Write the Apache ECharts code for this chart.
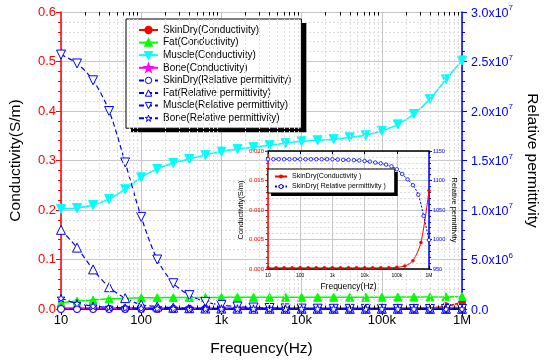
<!DOCTYPE html>
<html><head><meta charset="utf-8">
<script src="https://cdn.jsdelivr.net/npm/echarts@6/dist/echarts.min.js"></script>
<style>html,body{margin:0;padding:0;background:#fff}#c{width:550px;height:363px}</style>
</head><body><div id="c"></div>
<script>
// ---- data (main chart, 5 points per decade) ----
const freq = [10, 15.85, 25.12, 39.81, 63.1, 100, 158.5, 251.2, 398.1, 631, 1000, 1585, 2512, 3981, 6310,
  10000, 15849, 25119, 39811, 63096, 100000, 158489, 251189, 398107, 630957, 1000000];
const skinCond = [0.0002,0.0002,0.0002,0.0002,0.0002,0.0002,0.0002,0.0002,0.0002,0.0002,0.0002,0.0002,0.0002,
  0.0002,0.0002,0.0002,0.0002,0.0002,0.0002,0.0002,0.0003,0.0005,0.0010,0.0023,0.0058,0.0133];
const fatCond = [0.0125,0.016,0.018,0.0205,0.0218,0.0225,0.0229,0.0231,0.0233,0.0234,0.0235,0.0236,0.0236,
  0.0236,0.0237,0.0237,0.0237,0.0238,0.0238,0.0238,0.0239,0.024,0.0241,0.0243,0.0246,0.0251];
const muscleCond = [0.202,0.204,0.21,0.222,0.242,0.266,0.283,0.295,0.303,0.311,0.318,0.323,0.327,0.331,0.335,
  0.339,0.341,0.343,0.347,0.351,0.36,0.373,0.394,0.424,0.464,0.502];
const boneCond = [0.002,0.002,0.002,0.002,0.002,0.002,0.002,0.002,0.002,0.002,0.002,0.002,0.002,0.002,0.002,
  0.002,0.002,0.002,0.002,0.002,0.0021,0.0022,0.0023,0.0025,0.0027,0.003];
const skinPerm = [1136,1136,1136,1136,1136,1136,1136,1136,1136,1136,1136,1135.5,1135,1134.5,1134,1133,1131,
  1129.5,1127,1124,1119,1109,1096,1078,1045,999];
const fatPerm = [8.0e6,6.2e6,4.0e6,2.2e6,1.1e6,4.5e5,2.5e5,1.3e5,8e4,5e4,4e4,3.5e4,3e4,2.8e4,2.6e4,2.5e4,
  2.4e4,2.3e4,2.2e4,2.1e4,2e4,1.9e4,1.8e4,1.7e4,1.6e4,1.5e4];
const musclePerm = [2.57e7,2.48e7,2.31e7,2.0e7,1.48e7,9.3e6,5.0e6,2.6e6,1.4e6,7.2e5,4.0e5,2.5e5,1.5e5,1.0e5,
  6e4,4e4,3e4,2e4,1.5e4,1.2e4,1e4,8e3,6e3,4e3,3e3,2e3];
const bonePerm = [1.1e6,5.5e5,3.0e5,1.8e5,1.2e5,8.5e4,6.5e4,5e4,4.2e4,3.6e4,3.1e4,2.7e4,2.4e4,2.1e4,1.9e4,
  1.7e4,1.5e4,1.3e4,1.1e4,1e4,9e3,8e3,7e3,6.5e3,6e3,5.5e3];

// ---- data (inset) ----
const insetFreqCond = [10,17.78,31.62,56.23,100,177.8,316.2,562.3,1000,1778,3162,5623,10000,17783,31623,
  56234,100000,177828,316228,562341,1000000];
const insetCond = [0.0002,0.0002,0.0002,0.0002,0.0002,0.0002,0.0002,0.0002,0.0002,0.0002,0.0002,0.0002,
  0.0002,0.0002,0.0002,0.0002,0.0003,0.0005,0.0014,0.0045,0.0133];
const insetFreqPerm = [10,14.68,21.54,31.62,46.42,68.13,100,146.8,215.4,316.2,464.2,681.3,1000,1468,2154,
  3162,4642,6813,10000,14678,21544,31623,46416,68129,100000,146780,215443,316228,464159,681292,1000000];
const insetPerm = [1136,1136,1136,1136,1136,1136,1136,1136,1136,1136,1136,1136,1136,1135.5,1135,1135,
  1134.5,1134,1133,1132,1130.5,1129,1127,1124,1119,1111,1102,1092,1076,1040,999];

// axis tick labels
const freqLabels = {10:'10',100:'100',1000:'1k',10000:'10k',100000:'100k',1000000:'1M'};

const FONT = 'Arial, "Liberation Sans", sans-serif';
const RED = '#ff0000', BLUE = '#0000ff', GREEN = '#00ff00', CYAN = '#00ffff', MAG = '#ff00ff';
const STAR = 'path://M50,0 L61.8,35.3 98.6,35.3 68.8,57.1 80.2,92.7 50,70.9 19.8,92.7 31.2,57.1 1.4,35.3 38.2,35.3 Z';
const GRID_C = '#c8c8c8', MINOR_C = '#dcdcdc';

const minorX = [];
[10,100,1000,10000,100000].forEach(d => { for (let m = 2; m <= 9; m++) minorX.push(d*m); });

const pairs = (xs, ys) => xs.map((x,i) => [x, ys[i]]);
const fmtFreq = v => freqLabels[Math.round(v)] || '';

function permFmt(v){
  if (v === 0) return '{a|0.0}';
  const e = Math.floor(Math.log10(v) + 1e-9);
  const m = v / Math.pow(10, e);
  return '{a|' + m.toFixed(1) + 'x10}{b|' + e + '}';
}

function condSeries(name, ys, color, symbol, size, rotate){
  return {name, type:'line', xAxisIndex:0, yAxisIndex:0, data:pairs(freq, ys), symbol, symbolSize:size,
    symbolRotate: rotate||0, z:3,
    lineStyle:{color, width:1.5}, itemStyle:{color, borderColor:color, borderWidth:1}, smooth:0.3};
}
function permSeries(name, ys, symbol, size, rotate){
  return {name, type:'line', xAxisIndex:0, yAxisIndex:1, data:pairs(freq, ys), symbol, symbolSize:size,
    symbolRotate: rotate||0, z:3,
    lineStyle:{color:BLUE, width:1.2, type:[5,3]}, itemStyle:{color:'#fff', borderColor:BLUE, borderWidth:1}, smooth:0.3};
}

const mainNames = ['SkinDry(Conductivity)','Fat(Conductivity)','Muscle(Conductivity)','Bone(Conductivity)',
  'SkinDry(Relative permittivity)','Fat(Relative permittivity)','Muscle(Relative permittivity)','Bone(Relative permittivity)'];
const insetNames = ['SkinDry(Conductivity )','SkinDry( Relative permittivity )'];

const hollow = {color:'#fff', borderColor:BLUE, borderWidth:1};
const mainLegendData = mainNames.map((n,i) => i < 4 ? {name:n} : {name:n, itemStyle:hollow});
const insetLegendData = [{name:insetNames[0]}, {name:insetNames[1], itemStyle:hollow}];

const mainLegendBase = {data:mainLegendData, orient:'vertical', padding:[5,10,4,12], itemGap:0.6,
  itemWidth:19, itemHeight:8, selectedMode:false,
  textStyle:{fontSize:10, lineHeight:12, color:'#000', fontFamily:FONT}, borderRadius:0};
const insetLegendBase = {data:insetLegendData, orient:'vertical', padding:[3,9,2,6], itemGap:1,
  itemWidth:12, itemHeight:5, selectedMode:false,
  textStyle:{fontSize:7, lineHeight:9, color:'#000', fontFamily:FONT}, borderRadius:0};
const hidden = {textStyle:{color:'rgba(0,0,0,0)', fontSize:10, lineHeight:12, fontFamily:FONT},
  itemStyle:{opacity:0}, lineStyle:{opacity:0}, backgroundColor:'#000', borderWidth:0};

const option = {
  animation:false,
  backgroundColor:'#fff',
  textStyle:{fontFamily:FONT},
  grid:[
    {left:58, right:88, top:12, bottom:54, show:true, backgroundColor:'#fff', borderWidth:0, z:0},
    {left:268, right:121, top:151, height:118, show:true, backgroundColor:'#fff', borderWidth:0, z:10}
  ],
  xAxis:[
    {type:'log', logBase:10, gridIndex:0, min:10, max:1000000, position:'bottom',
      axisLine:{lineStyle:{color:'#000', width:1}}, axisTick:{inside:false, length:4, lineStyle:{color:'#000'}},
      axisLabel:{formatter:fmtFreq, fontSize:13, color:'#000', margin:5, fontFamily:FONT},
      splitLine:{show:true, lineStyle:{color:GRID_C, width:1}},
      name:'Frequency(Hz)', nameLocation:'middle', nameGap:32, nameTextStyle:{fontSize:15.5, color:'#000', fontFamily:FONT}},
    {type:'log', logBase:10, gridIndex:0, min:10, max:1000000, position:'top',
      axisLine:{lineStyle:{color:'#000', width:1}}, axisTick:{inside:true, length:6, lineStyle:{color:'#000'}},
      axisLabel:{show:false}, splitLine:{show:false}},
    {type:'log', logBase:10, gridIndex:1, min:10, max:1000000, position:'bottom', z:11,
      axisLine:{lineStyle:{color:'#000', width:1.5}}, axisTick:{inside:true, length:3, lineStyle:{color:'#000'}},
      axisLabel:{formatter:fmtFreq, fontSize:5, color:'#000', margin:4, fontFamily:FONT},
      splitLine:{show:true, lineStyle:{color:GRID_C, width:1}},
      name:'Frequency(Hz)', nameLocation:'middle', nameGap:13, nameTextStyle:{fontSize:8.5, color:'#000', fontFamily:FONT}},
    {type:'log', logBase:10, gridIndex:1, min:10, max:1000000, position:'top', z:11,
      axisLine:{lineStyle:{color:'#000', width:1.5}}, axisTick:{inside:true, length:3, lineStyle:{color:'#000'}},
      axisLabel:{show:false}, splitLine:{show:false}}
  ],
  yAxis:[
    {type:'value', gridIndex:0, position:'left', min:0, max:0.6, interval:0.1,
      axisLine:{show:true, lineStyle:{color:RED, width:1.5}},
      axisTick:{show:true, inside:false, length:5, lineStyle:{color:RED}},
      minorTick:{show:true, splitNumber:5, length:3, lineStyle:{color:RED}},
      axisLabel:{formatter:v => v.toFixed(1), fontSize:13, color:RED, margin:5, fontFamily:FONT},
      splitLine:{show:true, lineStyle:{color:GRID_C, width:1}},
      minorSplitLine:{show:true, lineStyle:{color:MINOR_C, width:1, type:[2,2]}},
      name:'Conductivity(S/m)', nameLocation:'middle', nameGap:37, nameRotate:90,
      nameTextStyle:{fontSize:15.5, color:'#000', fontFamily:FONT}},
    {type:'value', gridIndex:0, position:'right', min:0, max:30000000, interval:5000000,
      axisLine:{show:true, lineStyle:{color:BLUE, width:1.5}},
      axisTick:{show:true, inside:false, length:5, lineStyle:{color:BLUE}},
      minorTick:{show:true, splitNumber:5, length:3, lineStyle:{color:BLUE}},
      axisLabel:{formatter:permFmt, margin:9, fontFamily:FONT,
        rich:{a:{fontSize:12.5, color:BLUE, fontFamily:FONT, verticalAlign:'bottom', lineHeight:16},
              b:{fontSize:8, color:BLUE, fontFamily:FONT, verticalAlign:'top', lineHeight:16}}},
      splitLine:{show:false},
      name:'Relative permittivity', nameLocation:'middle', nameGap:56, nameRotate:-90,
      nameTextStyle:{fontSize:15.5, color:'#000', fontFamily:FONT}},
    {type:'value', gridIndex:1, position:'left', min:0, max:0.02, interval:0.005, z:11,
      axisLine:{show:true, lineStyle:{color:RED, width:1.5}},
      axisTick:{show:true, inside:false, length:3, lineStyle:{color:RED}},
      minorTick:{show:true, splitNumber:5, length:2, lineStyle:{color:RED}},
      axisLabel:{formatter:v => v.toFixed(3), fontSize:6, color:RED, margin:4, fontFamily:FONT},
      splitLine:{show:true, lineStyle:{color:GRID_C, width:1}},
      minorSplitLine:{show:true, lineStyle:{color:MINOR_C, width:1, type:[2,2]}},
      name:'Conductivity(S/m)', nameLocation:'middle', nameGap:23, nameRotate:90,
      nameTextStyle:{fontSize:7.5, color:'#000', fontFamily:FONT}},
    {type:'value', gridIndex:1, position:'right', min:950, max:1150, interval:50, z:11,
      axisLine:{show:true, lineStyle:{color:BLUE, width:1.5}},
      axisTick:{show:true, inside:false, length:3, lineStyle:{color:BLUE}},
      minorTick:{show:true, splitNumber:5, length:2, lineStyle:{color:BLUE}},
      axisLabel:{formatter:v => String(Math.round(v)), fontSize:5.5, color:BLUE, margin:4, fontFamily:FONT},
      splitLine:{show:false},
      name:'Relative permittivity', nameLocation:'middle', nameGap:21, nameRotate:-90,
      nameTextStyle:{fontSize:7.5, color:'#000', fontFamily:FONT}}
  ],
  legend:[
    Object.assign({}, mainLegendBase, hidden, {data:mainNames, left:131, top:23, z:4}),
    Object.assign({}, mainLegendBase, {left:126, top:19, z:5,
      backgroundColor:'#fff', borderColor:'#000', borderWidth:1}),
    Object.assign({}, insetLegendBase, hidden, {data:insetNames, left:271, top:172, z:13,
      textStyle:{color:'rgba(0,0,0,0)', fontSize:7, lineHeight:9, fontFamily:FONT}}),
    Object.assign({}, insetLegendBase, {left:268, top:169, z:14,
      backgroundColor:'#fff', borderColor:'#000', borderWidth:1})
  ],
  series:[
    {type:'line', name:'_mgrid', xAxisIndex:0, yAxisIndex:0, data:[], z:1, silent:true,
      markLine:{silent:true, symbol:['none','none'], label:{show:false}, emphasis:{disabled:true},
        lineStyle:{color:MINOR_C, type:[2,2], width:1},
        data:minorX.map(v => ({xAxis:v}))}},
    {type:'line', name:'_mticks', xAxisIndex:0, yAxisIndex:0, data:[], z:4, silent:true,
      markLine:{silent:true, symbol:['none','none'], label:{show:false}, emphasis:{disabled:true},
        lineStyle:{color:'#000', type:'solid', width:1},
        data:minorX.flatMap(v => [[{coord:[v,0]},{coord:[v,0.007]}],[{coord:[v,0.6]},{coord:[v,0.593]}]])}},
    condSeries(mainNames[0], skinCond, RED, 'circle', 7),
    condSeries(mainNames[1], fatCond, GREEN, 'triangle', 8),
    condSeries(mainNames[2], muscleCond, CYAN, 'triangle', 9, 180),
    condSeries(mainNames[3], boneCond, MAG, STAR, 8),
    permSeries(mainNames[4], skinPerm, 'circle', 7),
    permSeries(mainNames[5], fatPerm, 'triangle', 9),
    permSeries(mainNames[6], musclePerm, 'triangle', 9, 180),
    permSeries(mainNames[7], bonePerm, STAR, 8),
    {type:'line', name:'_igrid', xAxisIndex:2, yAxisIndex:2, data:[], z:11, silent:true,
      markLine:{silent:true, symbol:['none','none'], label:{show:false}, emphasis:{disabled:true},
        lineStyle:{color:MINOR_C, type:[2,2], width:1},
        data:minorX.map(v => ({xAxis:v}))}},
    {type:'line', name:'_iticks', xAxisIndex:2, yAxisIndex:2, data:[], z:12, silent:true,
      markLine:{silent:true, symbol:['none','none'], label:{show:false}, emphasis:{disabled:true},
        lineStyle:{color:'#000', type:'solid', width:1},
        data:minorX.flatMap(v => [[{coord:[v,0]},{coord:[v,0.0004]}],[{coord:[v,0.02]},{coord:[v,0.0196]}]])}},
    {name:insetNames[0], type:'line', xAxisIndex:2, yAxisIndex:2, data:pairs(insetFreqCond, insetCond),
      symbol:'circle', symbolSize:3.5, z:13, smooth:0.3,
      lineStyle:{color:RED, width:1}, itemStyle:{color:RED}},
    {name:insetNames[1], type:'line', xAxisIndex:2, yAxisIndex:3, data:pairs(insetFreqPerm, insetPerm),
      symbol:'circle', symbolSize:3.5, z:13, smooth:0.3,
      lineStyle:{color:BLUE, width:1, type:[2,1.5]}, itemStyle:{color:'#fff', borderColor:BLUE, borderWidth:0.8}}
  ]
};
const chart = echarts.init(document.getElementById('c'), null, {renderer:'canvas'});
chart.setOption(option);
</script>
</body></html>
